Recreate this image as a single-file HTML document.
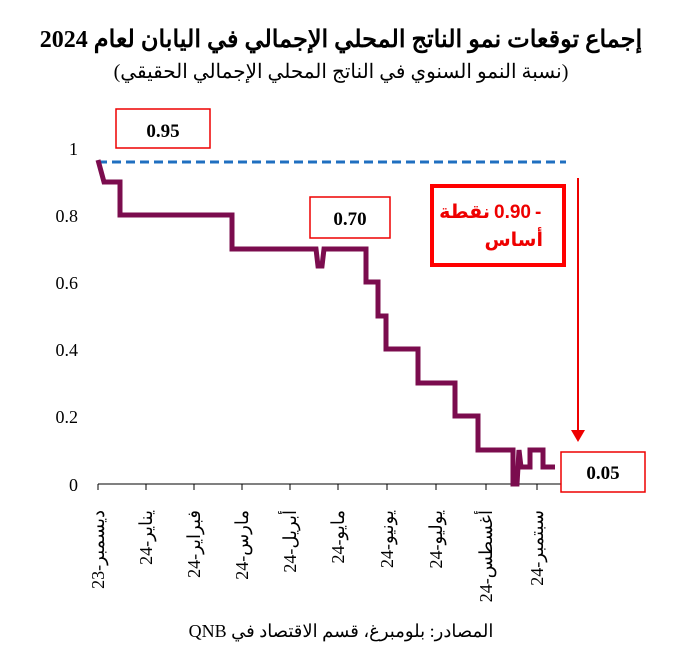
<!DOCTYPE html>
<html><head><meta charset="utf-8"><style>
body{margin:0;background:#fff;width:682px;height:661px;overflow:hidden;font-family:"Liberation Serif","Noto Serif CJK SC",serif}
</style></head><body>
<svg width="682" height="661" xmlns="http://www.w3.org/2000/svg" font-family="Liberation Serif, DejaVu Serif, serif">
<text x="341" y="47" text-anchor="middle" font-size="24" font-weight="bold">إجماع توقعات نمو الناتج المحلي الإجمالي في اليابان لعام 2024</text>
<text x="341" y="78" text-anchor="middle" font-size="20">(نسبة النمو السنوي في الناتج المحلي الإجمالي الحقيقي)</text>
<g font-size="18" text-anchor="end">
<text x="78" y="155">1</text><text x="78" y="222">0.8</text><text x="78" y="289">0.6</text>
<text x="78" y="356">0.4</text><text x="78" y="423">0.2</text><text x="78" y="491">0</text>
</g>
<line x1="98" y1="484" x2="562" y2="484" stroke="#000" stroke-width="1"/>
<g stroke="#000" stroke-width="1">
<line x1="98" y1="484" x2="98" y2="490"/><line x1="146" y1="484" x2="146" y2="490"/><line x1="194" y1="484" x2="194" y2="490"/><line x1="242" y1="484" x2="242" y2="490"/><line x1="290" y1="484" x2="290" y2="490"/><line x1="338" y1="484" x2="338" y2="490"/><line x1="387" y1="484" x2="387" y2="490"/><line x1="436" y1="484" x2="436" y2="490"/><line x1="486" y1="484" x2="486" y2="490"/><line x1="537" y1="484" x2="537" y2="490"/>
</g>
<line x1="98" y1="162" x2="566" y2="162" stroke="#1f6fc0" stroke-width="3" stroke-dasharray="9,5"/>
<polyline fill="none" stroke="#7b0c4e" stroke-width="5" stroke-linejoin="miter" points="98,160 104,182 120,182 120,215 232,215 232,249 316,249 318,266 322,266 324,249 366,249 366,282 378,282 378,316 386,316 386,349 418,349 418,383 455,383 455,416 478,416 478,450 513,450 513,484 517,484 519,450 521,467 530,467 530,450 543,450 543,467 555,467"/>
<line x1="578" y1="178" x2="578" y2="430" stroke="#e00" stroke-width="2"/>
<polygon points="571,430 585,430 578,442" fill="#e00"/>
<rect x="116" y="109" width="94" height="39" fill="#fff" stroke="#e00" stroke-width="1.5"/>
<text x="163" y="137" text-anchor="middle" font-size="19" font-weight="bold">0.95</text>
<rect x="310" y="197" width="80" height="41" fill="#fff" stroke="#e00" stroke-width="1.5"/>
<text x="350" y="225" text-anchor="middle" font-size="19" font-weight="bold">0.70</text>
<rect x="432" y="186" width="132" height="79" fill="#fff" stroke="#f00" stroke-width="4"/>
<g font-family="Liberation Sans, DejaVu Sans, sans-serif" font-weight="bold" font-size="19" fill="#e00">
<text x="490" y="218" text-anchor="end">نقطة</text>
<text x="494" y="218">0.90</text>
<text x="535" y="218">-</text>
<text x="543" y="246" text-anchor="end">أساس</text>
</g>
<rect x="561" y="452" width="84" height="40" fill="#fff" stroke="#e00" stroke-width="1.5"/>
<text x="603" y="479" text-anchor="middle" font-size="19" font-weight="bold">0.05</text>
<g font-size="18" text-anchor="end">
<text transform="translate(104,510) rotate(-90)">ديسمبر-23</text>
<text transform="translate(152,510) rotate(-90)">يناير-24</text>
<text transform="translate(200,510) rotate(-90)">فبراير-24</text>
<text transform="translate(248,510) rotate(-90)">مارس-24</text>
<text transform="translate(296,510) rotate(-90)">أبريل-24</text>
<text transform="translate(344,510) rotate(-90)">مايو-24</text>
<text transform="translate(393,510) rotate(-90)">يونيو-24</text>
<text transform="translate(442,510) rotate(-90)">يوليو-24</text>
<text transform="translate(492,510) rotate(-90)">أغسطس-24</text>
<text transform="translate(543,510) rotate(-90)">سبتمبر-24</text>
</g>
<text x="341" y="637" text-anchor="middle" font-size="18" direction="rtl" style="direction:rtl;unicode-bidi:embed">المصادر: بلومبرغ، قسم الاقتصاد في QNB</text>
</svg>
</body></html>
